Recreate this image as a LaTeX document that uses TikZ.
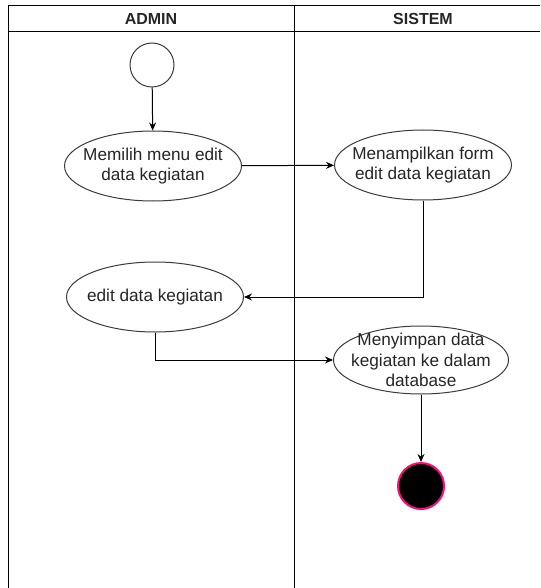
\documentclass[tikz,border=0pt]{standalone}
\usepackage{fontspec}
\setmainfont{Liberation Sans}
\usetikzlibrary{arrows.meta,shapes.geometric}
\definecolor{linegray}{HTML}{3C3C3C}
\definecolor{textgray}{HTML}{262626}
\definecolor{endpink}{HTML}{FF0A7A}

\begin{document}
\begin{tikzpicture}[x=1pt, y=-1pt, >={Stealth[length=8pt,width=7pt]}, line width=1pt,
		act/.style={ellipse, draw=linegray, fill=white, minimum width=177pt, minimum height=70pt, inner xsep=-10pt, inner ysep=-6pt, align=center, text=textgray, font=\fontsize{17.2}{20.5}\selectfont},
		lane/.style={font=\bfseries\fontsize{16}{19}\selectfont, text=textgray},
		startpt/.style={circle, draw=linegray, fill=white, minimum size=44pt, inner sep=0pt},
		stoppt/.style={circle, draw=endpink, fill=black, line width=2pt, minimum size=46pt, inner sep=0pt}]
					\useasboundingbox (0,0) rectangle (540,588);
					\fill[white] (0,0) rectangle (540,588);

					\draw (8,588) -- (8,6) -- (540,6);
					\draw (8,32) -- (540,32);
					\draw (294,6) -- (294,588);

					\node[lane] (admin) at (151,19) {ADMIN};
					\node[lane] (sistem) at (423,19) {SISTEM};

					\node[startpt] (start) at (152,65) {};
					\node[act] (memilih) at (153,166) {Memilih menu edit\\data kegiatan};
					\node[act] (tampil) at (423,165) {Menampilkan form\\edit data kegiatan};
					\node[act] (edit) at (155,297) {edit data kegiatan};
					\node[act, minimum width=175pt, minimum height=68pt] (simpan) at (421,360) {Menyimpan data\\kegiatan ke dalam\\database};
					\node[stoppt] (stop) at (421,486) {};


					\draw[->] (start) to (memilih);

					\draw[->] (memilih) to (tampil);

					\draw[->] (tampil.south) |- (edit.east);

					\draw[->] (edit.south) |- (simpan.west);

					\draw[->] (simpan) to (stop);
				\end{tikzpicture}
\end{document}
